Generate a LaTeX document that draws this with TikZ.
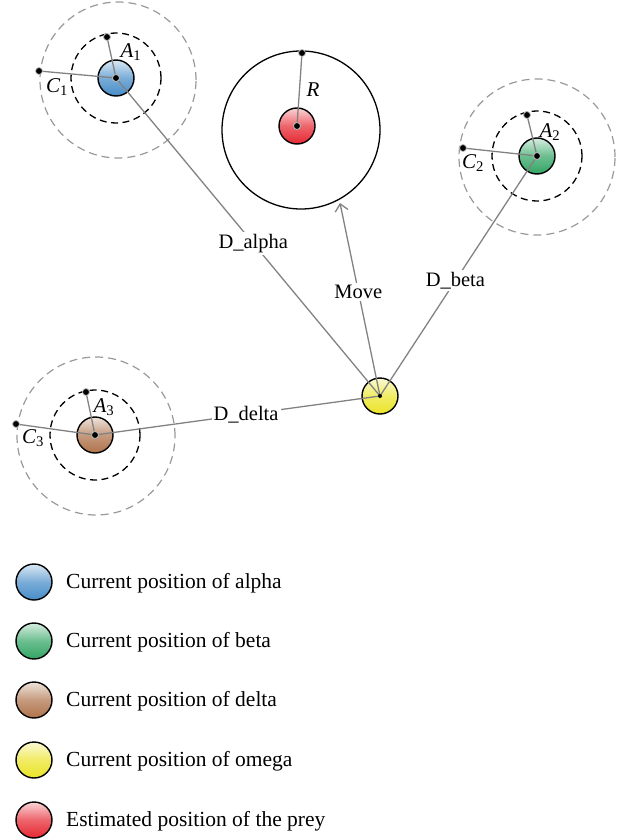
\documentclass[tikz,border=0pt]{standalone}
\usepackage{fontspec}
\setmainfont{Liberation Serif}
\usetikzlibrary{arrows.meta}
\definecolor{alphaC}{RGB}{70,140,200}
\definecolor{betaC}{RGB}{50,165,100}
\definecolor{deltaC}{RGB}{175,115,75}
\definecolor{omegaC}{RGB}{235,228,40}
\definecolor{preyC}{RGB}{230,40,50}
\definecolor{lineC}{RGB}{130,130,130}
\tikzset{
  agent/.style={circle, draw=black, line width=1.4pt, minimum size=36pt, inner sep=0pt,
    top color=#1!20, bottom color=#1, middle color=#1!72},
  zonecircle/.style={circle, draw=black, line width=1.3pt, inner sep=0pt},
  conn/.style={draw=lineC, line width=1.3pt},
  blackring/.style={draw=black, line width=1.3pt, dash pattern=on 7pt off 4.5pt},
  grayring/.style={draw=gray!80, line width=1.2pt, dash pattern=on 8pt off 5pt},
  enddot/.style={fill=black, draw=gray!50, line width=0.8pt},
  lab/.style={fill=white, inner sep=2pt, font=\fontsize{20.5}{24}\selectfont},
  sym/.style={inner sep=0pt, font=\fontsize{21}{24}\selectfont},
  legtext/.style={anchor=base west, inner sep=0pt, font=\fontsize{21.5}{25}\selectfont}
}
\begin{document}
\begin{tikzpicture}[x=1pt,y=-1pt]
\useasboundingbox (0,0) rectangle (628,840);

% prey zone
\node[zonecircle, minimum size=158pt] (zone) at (301,130) {};

% rings around leaders
\coordinate (ca) at (116,78);
\coordinate (cb) at (537,156);
\coordinate (cd) at (95,435);
\draw[grayring] (118,80) circle (78pt);
\draw[blackring] (ca) circle (45pt);
\draw[grayring] (537,157) circle (78pt);
\draw[blackring] (cb) circle (45pt);
\draw[grayring] (96,436) circle (79pt);
\draw[blackring] (cd) circle (45pt);

% agents
\node[agent=alphaC] (alpha) at (ca) {};
\node[agent=betaC] (beta) at (cb) {};
\node[agent=deltaC] (delta) at (cd) {};
\node[agent=omegaC] (omega) at (380,396) {};
\node[agent=preyC] (prey) at (297,126) {};

% endpoints
\coordinate (a1) at (107,37);
\coordinate (c1) at (39,71);
\coordinate (a2) at (527,115);
\coordinate (c2) at (463,148);
\coordinate (a3) at (86,392);
\coordinate (c3) at (16,424);
\coordinate (r1) at (302,53);
\coordinate (movetip) at (340,203);

% connectors
\draw[conn] (omega.center) -- node[lab,pos=0.48]{D\_alpha} (alpha.center);
\draw[conn] (omega.center) -- node[lab,pos=0.48]{D\_beta} (beta.center);
\draw[conn] (omega.center) -- node[lab,pos=0.47]{D\_delta} (delta.center);
\draw[conn,-{Straight Barb[length=7pt,width=13pt]}] (omega.center) -- node[lab,pos=0.54]{Move} (movetip);

\draw[conn] (alpha.center) -- (a1);
\draw[conn] (alpha.center) -- (c1);
\draw[conn] (beta.center) -- (a2);
\draw[conn] (beta.center) -- (c2);
\draw[conn] (delta.center) -- (a3);
\draw[conn] (delta.center) -- (c3);
\draw[conn] (prey.center) -- (r1);

% dots
\foreach \p in {a1,c1,a2,c2,a3,c3,r1}{\filldraw[enddot] (\p) circle (3.5pt);}
\foreach \p in {alpha,beta,delta,prey}{\filldraw[enddot] (\p.center) circle (3.5pt);}
\fill (omega.center) circle (2pt);

% labels
\node[sym] (la1) at (131,52) {\itshape A\textsubscript{\upshape 1}};
\node[sym] (lc1) at (57,87) {\itshape C\textsubscript{\upshape 1}};
\node[sym] (la2) at (550,132) {\itshape A\textsubscript{\upshape 2}};
\node[sym] (lc2) at (473,163) {\itshape C\textsubscript{\upshape 2}};
\node[sym] (la3) at (104,407) {\itshape A\textsubscript{\upshape 3}};
\node[sym] (lc3) at (33,438) {\itshape C\textsubscript{\upshape 3}};
\node[sym] (lr) at (313,90) {\itshape R};

% legend
\node[agent=alphaC] (l1) at (34,582) {};
\node[agent=betaC] (l2) at (34,641) {};
\node[agent=deltaC] (l3) at (34,700) {};
\node[agent=omegaC] (l4) at (34,760) {};
\node[agent=preyC] (l5) at (34,820) {};
\node[legtext] (t1) at (66,588) {Current position of alpha};
\node[legtext] (t2) at (66,647) {Current position of beta};
\node[legtext] (t3) at (66,706) {Current position of delta};
\node[legtext] (t4) at (66,766) {Current position of omega};
\node[legtext] (t5) at (66,826) {Estimated position of the prey};
\end{tikzpicture}
\end{document}
